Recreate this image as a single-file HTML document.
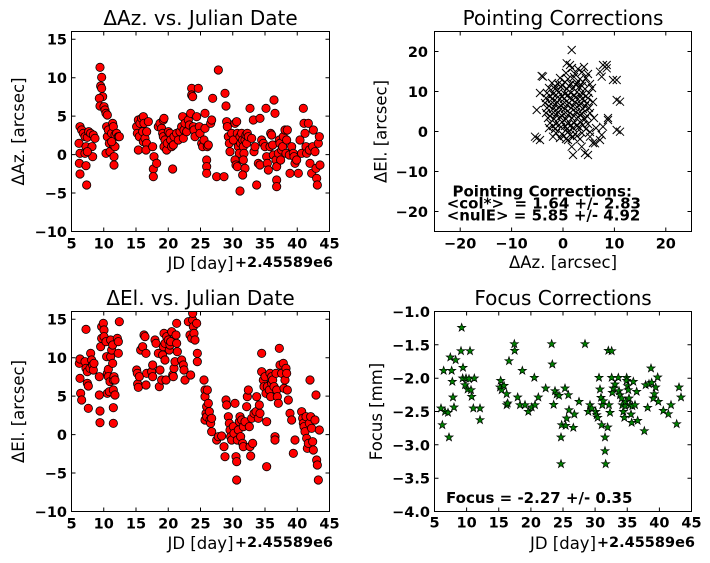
<!DOCTYPE html>
<html><head><meta charset="utf-8">
<style>
html,body{margin:0;padding:0;background:#fff;}
svg{display:block;}
text{font-family:"DejaVu Sans","Liberation Sans",sans-serif;fill:#000;}
.t{font-size:20px;}
.l{font-size:16.5px;}
.k{font-size:14.5px;font-weight:bold;}
.a{font-size:15px;font-weight:bold;white-space:pre;}
</style></head>
<body>
<svg width="710" height="563" viewBox="0 0 710 563" xmlns="http://www.w3.org/2000/svg">
<defs>
<circle id="c" cx="0" cy="0" r="12.5" fill="#ff0000" stroke="#000" stroke-width="2.4"/>
<path id="xm" d="M-4-4L4 4M4-4L-4 4" stroke="#000" stroke-width="1" fill="none"/>
<path id="st" d="M0-13L3.06-4.21L12.36-4.02L4.95 1.61L7.64 10.52L0 5.2L-7.64 10.52L-4.95 1.61L-12.36-4.02L-3.06-4.21Z" fill="#008000" stroke="#000" stroke-width="2"/>
<clipPath id="cTL"><rect x="71.5" y="31.5" width="258" height="200"/></clipPath>
<clipPath id="cTR"><rect x="434.5" y="31.5" width="257" height="200"/></clipPath>
<clipPath id="cBL"><rect x="71.5" y="311.5" width="258" height="200"/></clipPath>
<clipPath id="cBR"><rect x="434.5" y="311.5" width="257" height="200"/></clipPath>
</defs>

<!-- ===== TOP LEFT ===== -->
<g clip-path="url(#cTL)"><g transform="scale(0.333333)">
<use href="#c" x="240" y="380"/><use href="#c" x="245" y="390"/><use href="#c" x="237" y="430"/><use href="#c" x="240" y="460"/><use href="#c" x="238" y="490"/><use href="#c" x="240" y="522"/><use href="#c" x="250" y="400"/><use href="#c" x="255" y="410"/><use href="#c" x="258" y="440"/><use href="#c" x="260" y="555"/><use href="#c" x="258" y="497"/><use href="#c" x="262" y="412"/><use href="#c" x="266" y="395"/><use href="#c" x="272" y="400"/><use href="#c" x="276" y="440"/><use href="#c" x="278" y="470"/><use href="#c" x="280" y="405"/><use href="#c" x="285" y="415"/><use href="#c" x="255" y="460"/><use href="#c" x="262" y="455"/>
<use href="#c" x="300" y="202"/><use href="#c" x="305" y="232"/><use href="#c" x="302" y="258"/><use href="#c" x="305" y="265"/><use href="#c" x="308" y="290"/><use href="#c" x="298" y="295"/><use href="#c" x="300" y="318"/><use href="#c" x="312" y="320"/><use href="#c" x="315" y="330"/><use href="#c" x="318" y="340"/><use href="#c" x="322" y="345"/><use href="#c" x="320" y="380"/><use href="#c" x="318" y="460"/><use href="#c" x="322" y="410"/><use href="#c" x="325" y="390"/><use href="#c" x="328" y="430"/><use href="#c" x="330" y="455"/><use href="#c" x="335" y="400"/><use href="#c" x="338" y="370"/><use href="#c" x="340" y="380"/><use href="#c" x="340" y="435"/><use href="#c" x="342" y="470"/><use href="#c" x="342" y="495"/><use href="#c" x="345" y="440"/><use href="#c" x="345" y="405"/><use href="#c" x="350" y="400"/><use href="#c" x="355" y="410"/><use href="#c" x="358" y="410"/><use href="#c" x="335" y="425"/>
<use href="#c" x="410" y="380"/><use href="#c" x="412" y="400"/><use href="#c" x="415" y="360"/><use href="#c" x="418" y="410"/><use href="#c" x="420" y="370"/><use href="#c" x="415" y="450"/><use href="#c" x="425" y="355"/><use href="#c" x="430" y="350"/><use href="#c" x="432" y="370"/><use href="#c" x="428" y="395"/><use href="#c" x="430" y="425"/><use href="#c" x="435" y="415"/><use href="#c" x="440" y="430"/><use href="#c" x="438" y="450"/><use href="#c" x="445" y="365"/><use href="#c" x="440" y="395"/><use href="#c" x="458" y="440"/><use href="#c" x="462" y="470"/><use href="#c" x="460" y="507"/><use href="#c" x="460" y="530"/><use href="#c" x="470" y="490"/><use href="#c" x="475" y="380"/><use href="#c" x="480" y="370"/><use href="#c" x="485" y="385"/><use href="#c" x="490" y="360"/><use href="#c" x="492" y="355"/><use href="#c" x="488" y="400"/><use href="#c" x="490" y="410"/><use href="#c" x="495" y="420"/><use href="#c" x="492" y="440"/><use href="#c" x="500" y="450"/><use href="#c" x="502" y="430"/><use href="#c" x="505" y="395"/><use href="#c" x="510" y="400"/><use href="#c" x="512" y="420"/><use href="#c" x="515" y="440"/><use href="#c" x="518" y="507"/><use href="#c" x="520" y="435"/><use href="#c" x="522" y="410"/>
<use href="#c" x="530" y="400"/><use href="#c" x="535" y="420"/><use href="#c" x="540" y="395"/><use href="#c" x="545" y="380"/><use href="#c" x="548" y="350"/><use href="#c" x="552" y="390"/><use href="#c" x="550" y="415"/><use href="#c" x="555" y="370"/><use href="#c" x="560" y="395"/><use href="#c" x="565" y="360"/><use href="#c" x="568" y="375"/><use href="#c" x="572" y="340"/><use href="#c" x="575" y="265"/><use href="#c" x="575" y="285"/><use href="#c" x="578" y="290"/><use href="#c" x="580" y="380"/><use href="#c" x="582" y="390"/><use href="#c" x="585" y="410"/><use href="#c" x="590" y="350"/><use href="#c" x="595" y="265"/><use href="#c" x="598" y="380"/><use href="#c" x="600" y="400"/><use href="#c" x="605" y="430"/><use href="#c" x="608" y="440"/><use href="#c" x="612" y="420"/><use href="#c" x="615" y="385"/><use href="#c" x="615" y="340"/><use href="#c" x="620" y="480"/><use href="#c" x="620" y="500"/><use href="#c" x="620" y="520"/><use href="#c" x="622" y="440"/><use href="#c" x="625" y="435"/><use href="#c" x="632" y="370"/><use href="#c" x="635" y="360"/><use href="#c" x="638" y="295"/><use href="#c" x="655" y="210"/><use href="#c" x="650" y="530"/><use href="#c" x="672" y="530"/><use href="#c" x="675" y="280"/><use href="#c" x="678" y="318"/><use href="#c" x="680" y="365"/><use href="#c" x="682" y="380"/><use href="#c" x="685" y="410"/><use href="#c" x="688" y="430"/><use href="#c" x="690" y="455"/>
<use href="#c" x="695" y="400"/><use href="#c" x="700" y="420"/><use href="#c" x="705" y="370"/><use href="#c" x="710" y="365"/><use href="#c" x="712" y="400"/><use href="#c" x="715" y="440"/><use href="#c" x="718" y="460"/><use href="#c" x="705" y="480"/><use href="#c" x="708" y="495"/><use href="#c" x="712" y="500"/><use href="#c" x="720" y="573"/><use href="#c" x="720" y="410"/><use href="#c" x="722" y="430"/><use href="#c" x="725" y="400"/><use href="#c" x="728" y="420"/><use href="#c" x="730" y="440"/><use href="#c" x="732" y="460"/><use href="#c" x="735" y="420"/><use href="#c" x="738" y="405"/><use href="#c" x="740" y="430"/><use href="#c" x="742" y="400"/><use href="#c" x="745" y="410"/><use href="#c" x="750" y="325"/><use href="#c" x="730" y="480"/><use href="#c" x="735" y="505"/><use href="#c" x="728" y="525"/><use href="#c" x="755" y="415"/><use href="#c" x="760" y="360"/><use href="#c" x="762" y="455"/><use href="#c" x="765" y="440"/><use href="#c" x="780" y="355"/>
<use href="#c" x="770" y="555"/><use href="#c" x="775" y="490"/><use href="#c" x="780" y="495"/><use href="#c" x="785" y="420"/><use href="#c" x="790" y="430"/><use href="#c" x="795" y="440"/><use href="#c" x="798" y="325"/><use href="#c" x="800" y="470"/><use href="#c" x="802" y="490"/><use href="#c" x="805" y="510"/><use href="#c" x="810" y="440"/><use href="#c" x="812" y="400"/><use href="#c" x="815" y="405"/><use href="#c" x="818" y="435"/><use href="#c" x="820" y="465"/><use href="#c" x="822" y="300"/><use href="#c" x="825" y="340"/><use href="#c" x="828" y="480"/><use href="#c" x="830" y="500"/><use href="#c" x="830" y="540"/><use href="#c" x="830" y="560"/><use href="#c" x="835" y="460"/><use href="#c" x="838" y="420"/><use href="#c" x="840" y="430"/><use href="#c" x="842" y="480"/><use href="#c" x="845" y="450"/><use href="#c" x="848" y="440"/><use href="#c" x="850" y="410"/><use href="#c" x="855" y="390"/><use href="#c" x="858" y="460"/><use href="#c" x="860" y="420"/><use href="#c" x="862" y="390"/><use href="#c" x="868" y="465"/><use href="#c" x="870" y="520"/><use href="#c" x="875" y="440"/><use href="#c" x="880" y="460"/><use href="#c" x="882" y="470"/>
<use href="#c" x="885" y="490"/><use href="#c" x="890" y="480"/><use href="#c" x="895" y="520"/><use href="#c" x="900" y="420"/><use href="#c" x="905" y="460"/><use href="#c" x="910" y="325"/><use href="#c" x="912" y="370"/><use href="#c" x="915" y="400"/><use href="#c" x="918" y="440"/><use href="#c" x="920" y="460"/><use href="#c" x="925" y="370"/><use href="#c" x="928" y="450"/><use href="#c" x="930" y="490"/><use href="#c" x="935" y="520"/><use href="#c" x="938" y="440"/><use href="#c" x="940" y="390"/><use href="#c" x="945" y="455"/><use href="#c" x="948" y="505"/><use href="#c" x="950" y="535"/><use href="#c" x="952" y="555"/><use href="#c" x="955" y="430"/><use href="#c" x="958" y="410"/><use href="#c" x="960" y="495"/>
</g></g>
<rect x="71.5" y="31.5" width="258" height="200" fill="none" stroke="#000" stroke-width="1"/>
<path stroke="#000" stroke-width="1" fill="none" d="M103.75 231.5v-4M136 231.5v-4M168.25 231.5v-4M200.5 231.5v-4M232.75 231.5v-4M265 231.5v-4M297.25 231.5v-4M103.75 31.5v4M136 31.5v4M168.25 31.5v4M200.5 31.5v4M232.75 31.5v4M265 31.5v4M297.25 31.5v4M71.5 193h4M71.5 154.6h4M71.5 116.1h4M71.5 77.7h4M71.5 39.2h4M329.5 193h-4M329.5 154.6h-4M329.5 116.1h-4M329.5 77.7h-4M329.5 39.2h-4"/>
<text class="t" x="200.5" y="25" text-anchor="middle">ΔAz. vs. Julian Date</text>
<g class="k" text-anchor="end">
<text x="67" y="237">−10</text><text x="67" y="198.5">−5</text><text x="67" y="160.1">0</text><text x="67" y="121.6">5</text><text x="67" y="83.2">10</text><text x="67" y="44.7">15</text>
</g>
<g class="k" text-anchor="middle">
<text x="71.5" y="248.3">5</text><text x="103.75" y="248.3">10</text><text x="136" y="248.3">15</text><text x="168.25" y="248.3">20</text><text x="200.5" y="248.3">25</text><text x="232.75" y="248.3">30</text><text x="265" y="248.3">35</text><text x="297.25" y="248.3">40</text><text x="329.5" y="248.3">45</text>
</g>
<text class="l" x="200.5" y="269" text-anchor="middle">JD [day]</text>
<text class="k" x="333" y="267" text-anchor="end">+2.45589e6</text>
<text class="l" transform="translate(24,131.5) rotate(-90)" text-anchor="middle">ΔAz. [arcsec]</text>

<!-- ===== TOP RIGHT ===== -->
<g clip-path="url(#cTR)">
<use href="#xm" x="571.7" y="50"/><use href="#xm" x="566.7" y="63.3"/><use href="#xm" x="570" y="65"/><use href="#xm" x="541.7" y="76"/><use href="#xm" x="603" y="65"/><use href="#xm" x="606.7" y="68.3"/><use href="#xm" x="600" y="71.7"/><use href="#xm" x="616.7" y="80"/><use href="#xm" x="540" y="93"/><use href="#xm" x="616.7" y="100"/><use href="#xm" x="536.7" y="110"/><use href="#xm" x="535" y="136.7"/><use href="#xm" x="540" y="140"/><use href="#xm" x="608" y="120"/><use href="#xm" x="603" y="126.7"/><use href="#xm" x="616.7" y="130"/><use href="#xm" x="600" y="140"/><use href="#xm" x="593" y="143"/><use href="#xm" x="571.7" y="146.7"/><use href="#xm" x="581.7" y="146.7"/><use href="#xm" x="590" y="136.7"/><use href="#xm" x="568" y="140"/><use href="#xm" x="553" y="136.7"/><use href="#xm" x="620" y="101.7"/><use href="#xm" x="620" y="131.7"/><use href="#xm" x="608" y="118"/><use href="#xm" x="613" y="80"/><use href="#xm" x="606.7" y="65"/><use href="#xm" x="601.7" y="76.7"/><use href="#xm" x="543" y="76.7"/><use href="#xm" x="536.7" y="138.3"/><use href="#xm" x="588" y="155"/><use href="#xm" x="585" y="153"/><use href="#xm" x="573" y="155"/><use href="#xm" x="595" y="143.3"/><use href="#xm" x="601.7" y="135"/>
<use href="#xm" x="572" y="68"/><use href="#xm" x="578" y="69"/><use href="#xm" x="584" y="67"/>
<use href="#xm" x="566" y="73"/><use href="#xm" x="575" y="74"/><use href="#xm" x="582" y="72"/><use href="#xm" x="588" y="74"/>
<use href="#xm" x="560" y="78"/><use href="#xm" x="568" y="79"/><use href="#xm" x="574" y="77"/><use href="#xm" x="580" y="79"/><use href="#xm" x="586" y="78"/>
<use href="#xm" x="552" y="83"/><use href="#xm" x="558" y="84"/><use href="#xm" x="565" y="82"/><use href="#xm" x="571" y="84"/><use href="#xm" x="577" y="83"/><use href="#xm" x="583" y="82"/><use href="#xm" x="590" y="84"/>
<use href="#xm" x="549" y="88"/><use href="#xm" x="555" y="89"/><use href="#xm" x="561" y="87"/><use href="#xm" x="567" y="89"/><use href="#xm" x="573" y="88"/><use href="#xm" x="579" y="87"/><use href="#xm" x="585" y="89"/><use href="#xm" x="592" y="88"/>
<use href="#xm" x="547" y="93"/><use href="#xm" x="553" y="94"/><use href="#xm" x="559" y="92"/><use href="#xm" x="565" y="94"/><use href="#xm" x="571" y="93"/><use href="#xm" x="577" y="92"/><use href="#xm" x="583" y="94"/><use href="#xm" x="589" y="93"/>
<use href="#xm" x="546" y="98"/><use href="#xm" x="552" y="99"/><use href="#xm" x="558" y="97"/><use href="#xm" x="564" y="99"/><use href="#xm" x="570" y="98"/><use href="#xm" x="576" y="97"/><use href="#xm" x="582" y="99"/><use href="#xm" x="588" y="98"/>
<use href="#xm" x="545" y="103"/><use href="#xm" x="551" y="104"/><use href="#xm" x="557" y="102"/><use href="#xm" x="563" y="104"/><use href="#xm" x="569" y="103"/><use href="#xm" x="575" y="102"/><use href="#xm" x="581" y="104"/><use href="#xm" x="587" y="103"/><use href="#xm" x="593" y="102"/>
<use href="#xm" x="547" y="108"/><use href="#xm" x="553" y="109"/><use href="#xm" x="559" y="107"/><use href="#xm" x="565" y="109"/><use href="#xm" x="571" y="108"/><use href="#xm" x="577" y="107"/><use href="#xm" x="583" y="109"/><use href="#xm" x="589" y="108"/>
<use href="#xm" x="546" y="113"/><use href="#xm" x="552" y="114"/><use href="#xm" x="558" y="112"/><use href="#xm" x="564" y="114"/><use href="#xm" x="570" y="113"/><use href="#xm" x="576" y="112"/><use href="#xm" x="582" y="114"/><use href="#xm" x="590" y="113"/>
<use href="#xm" x="548" y="118"/><use href="#xm" x="554" y="119"/><use href="#xm" x="560" y="117"/><use href="#xm" x="566" y="119"/><use href="#xm" x="572" y="118"/><use href="#xm" x="578" y="117"/><use href="#xm" x="585" y="119"/><use href="#xm" x="594" y="118"/>
<use href="#xm" x="550" y="123"/><use href="#xm" x="556" y="124"/><use href="#xm" x="562" y="122"/><use href="#xm" x="568" y="124"/><use href="#xm" x="574" y="123"/><use href="#xm" x="580" y="122"/><use href="#xm" x="588" y="124"/>
<use href="#xm" x="549" y="128"/><use href="#xm" x="555" y="129"/><use href="#xm" x="561" y="127"/><use href="#xm" x="567" y="129"/><use href="#xm" x="573" y="128"/><use href="#xm" x="579" y="127"/><use href="#xm" x="586" y="129"/><use href="#xm" x="596" y="128"/>
<use href="#xm" x="556" y="133"/><use href="#xm" x="562" y="134"/><use href="#xm" x="568" y="132"/><use href="#xm" x="575" y="134"/><use href="#xm" x="582" y="133"/><use href="#xm" x="590" y="132"/>
<use href="#xm" x="560" y="138"/><use href="#xm" x="566" y="139"/><use href="#xm" x="573" y="137"/><use href="#xm" x="580" y="139"/>
<use href="#xm" x="555" y="86"/><use href="#xm" x="562" y="85"/><use href="#xm" x="569" y="86"/><use href="#xm" x="576" y="85"/><use href="#xm" x="582" y="86"/>
<use href="#xm" x="550" y="96"/><use href="#xm" x="556" y="95"/><use href="#xm" x="562" y="96"/><use href="#xm" x="568" y="95"/><use href="#xm" x="574" y="96"/><use href="#xm" x="580" y="95"/><use href="#xm" x="586" y="96"/>
<use href="#xm" x="549" y="106"/><use href="#xm" x="555" y="105"/><use href="#xm" x="561" y="106"/><use href="#xm" x="567" y="105"/><use href="#xm" x="573" y="106"/><use href="#xm" x="579" y="105"/><use href="#xm" x="585" y="106"/>
<use href="#xm" x="550" y="116"/><use href="#xm" x="556" y="115"/><use href="#xm" x="562" y="116"/><use href="#xm" x="568" y="115"/><use href="#xm" x="574" y="116"/><use href="#xm" x="580" y="115"/><use href="#xm" x="587" y="116"/>
<use href="#xm" x="553" y="126"/><use href="#xm" x="559" y="125"/><use href="#xm" x="565" y="126"/><use href="#xm" x="571" y="125"/><use href="#xm" x="577" y="126"/><use href="#xm" x="583" y="125"/>
<use href="#xm" x="564" y="136"/><use href="#xm" x="570" y="135"/><use href="#xm" x="577" y="136"/>
</g>
<rect x="434.5" y="31.5" width="257" height="200" fill="none" stroke="#000" stroke-width="1"/>
<path stroke="#000" stroke-width="1" fill="none" d="M460.2 231.5v-4M511.6 231.5v-4M563 231.5v-4M614.4 231.5v-4M665.8 231.5v-4M460.2 31.5v4M511.6 31.5v4M563 31.5v4M614.4 31.5v4M665.8 31.5v4M434.5 51.5h4M434.5 91.5h4M434.5 131.5h4M434.5 171.5h4M434.5 211.5h4M691.5 51.5h-4M691.5 91.5h-4M691.5 131.5h-4M691.5 171.5h-4M691.5 211.5h-4"/>
<text class="t" x="563" y="25" text-anchor="middle">Pointing Corrections</text>
<g class="k" text-anchor="end">
<text x="428" y="57">20</text><text x="428" y="97">10</text><text x="428" y="137">0</text><text x="428" y="177">−10</text><text x="428" y="217">−20</text>
</g>
<g class="k" text-anchor="middle">
<text x="460.2" y="248.3">−20</text><text x="511.6" y="248.3">−10</text><text x="563" y="248.3">0</text><text x="614.4" y="248.3">10</text><text x="665.8" y="248.3">20</text>
</g>
<text class="l" x="563" y="268" text-anchor="middle">ΔAz. [arcsec]</text>
<text class="l" transform="translate(386.5,131.5) rotate(-90)" text-anchor="middle">ΔEl. [arcsec]</text>
<text class="a" x="452.5" y="196.5">Pointing Corrections:</text>
<text class="a" x="446.7" y="208.5">&lt;col*&gt;  = 1.64 +/- 2.83</text>
<text class="a" x="446.7" y="220.5">&lt;nulE&gt; = 5.85 +/- 4.92</text>

<!-- ===== BOTTOM LEFT ===== -->
<g clip-path="url(#cBL)"><g transform="translate(0,280) scale(0.333333)">
<use href="#c" x="238" y="250"/><use href="#c" x="240" y="237"/><use href="#c" x="240" y="295"/><use href="#c" x="242" y="340"/><use href="#c" x="245" y="360"/><use href="#c" x="258" y="148"/><use href="#c" x="255" y="245"/><use href="#c" x="258" y="265"/><use href="#c" x="262" y="275"/><use href="#c" x="262" y="310"/><use href="#c" x="265" y="318"/><use href="#c" x="265" y="385"/><use href="#c" x="270" y="265"/><use href="#c" x="272" y="220"/><use href="#c" x="275" y="240"/><use href="#c" x="278" y="255"/><use href="#c" x="280" y="270"/><use href="#c" x="282" y="250"/>
<use href="#c" x="298" y="290"/><use href="#c" x="298" y="345"/><use href="#c" x="300" y="393"/><use href="#c" x="300" y="428"/><use href="#c" x="302" y="200"/><use href="#c" x="305" y="175"/><use href="#c" x="305" y="140"/><use href="#c" x="310" y="130"/><use href="#c" x="312" y="150"/><use href="#c" x="312" y="170"/><use href="#c" x="318" y="185"/><use href="#c" x="320" y="230"/><use href="#c" x="322" y="280"/><use href="#c" x="325" y="268"/><use href="#c" x="325" y="290"/><use href="#c" x="322" y="340"/><use href="#c" x="328" y="335"/><use href="#c" x="330" y="305"/><use href="#c" x="332" y="180"/><use href="#c" x="332" y="230"/><use href="#c" x="335" y="210"/><use href="#c" x="338" y="195"/><use href="#c" x="338" y="250"/><use href="#c" x="340" y="300"/><use href="#c" x="342" y="290"/><use href="#c" x="340" y="330"/><use href="#c" x="340" y="383"/><use href="#c" x="340" y="430"/><use href="#c" x="345" y="345"/><use href="#c" x="345" y="300"/><use href="#c" x="352" y="175"/><use href="#c" x="355" y="185"/><use href="#c" x="355" y="220"/><use href="#c" x="358" y="125"/>
<use href="#c" x="410" y="270"/><use href="#c" x="412" y="280"/><use href="#c" x="413" y="312"/><use href="#c" x="415" y="322"/><use href="#c" x="418" y="290"/><use href="#c" x="422" y="210"/><use href="#c" x="428" y="200"/><use href="#c" x="432" y="165"/><use href="#c" x="435" y="170"/><use href="#c" x="438" y="220"/><use href="#c" x="440" y="280"/><use href="#c" x="438" y="315"/><use href="#c" x="455" y="275"/><use href="#c" x="458" y="255"/><use href="#c" x="458" y="290"/><use href="#c" x="465" y="180"/><use href="#c" x="468" y="190"/><use href="#c" x="475" y="220"/><use href="#c" x="478" y="320"/><use href="#c" x="480" y="270"/><use href="#c" x="485" y="300"/><use href="#c" x="488" y="225"/><use href="#c" x="490" y="200"/><use href="#c" x="492" y="160"/><use href="#c" x="495" y="190"/><use href="#c" x="495" y="240"/><use href="#c" x="498" y="300"/><use href="#c" x="500" y="170"/><use href="#c" x="505" y="180"/><use href="#c" x="508" y="210"/><use href="#c" x="510" y="195"/><use href="#c" x="512" y="185"/><use href="#c" x="515" y="155"/><use href="#c" x="518" y="285"/><use href="#c" x="520" y="290"/><use href="#c" x="522" y="265"/><use href="#c" x="525" y="245"/><use href="#c" x="528" y="165"/><use href="#c" x="530" y="130"/><use href="#c" x="530" y="190"/><use href="#c" x="532" y="215"/>
<use href="#c" x="545" y="240"/><use href="#c" x="550" y="255"/><use href="#c" x="552" y="270"/><use href="#c" x="555" y="300"/><use href="#c" x="565" y="125"/><use href="#c" x="570" y="165"/><use href="#c" x="572" y="285"/><use href="#c" x="575" y="175"/><use href="#c" x="578" y="120"/><use href="#c" x="578" y="100"/><use href="#c" x="580" y="140"/><use href="#c" x="582" y="160"/><use href="#c" x="585" y="180"/><use href="#c" x="590" y="130"/><use href="#c" x="592" y="220"/><use href="#c" x="592" y="245"/>
<use href="#c" x="612" y="300"/><use href="#c" x="615" y="330"/><use href="#c" x="615" y="350"/><use href="#c" x="615" y="420"/><use href="#c" x="618" y="400"/><use href="#c" x="620" y="380"/><use href="#c" x="620" y="410"/><use href="#c" x="622" y="330"/><use href="#c" x="625" y="370"/><use href="#c" x="628" y="395"/><use href="#c" x="630" y="420"/><use href="#c" x="632" y="430"/><use href="#c" x="635" y="415"/><use href="#c" x="635" y="455"/><use href="#c" x="650" y="480"/><use href="#c" x="655" y="470"/><use href="#c" x="665" y="468"/><use href="#c" x="672" y="500"/><use href="#c" x="675" y="530"/><use href="#c" x="678" y="360"/><use href="#c" x="680" y="375"/><use href="#c" x="685" y="410"/><use href="#c" x="688" y="430"/><use href="#c" x="690" y="450"/><use href="#c" x="692" y="470"/><use href="#c" x="695" y="480"/>
<use href="#c" x="700" y="440"/><use href="#c" x="702" y="460"/><use href="#c" x="705" y="370"/><use href="#c" x="708" y="530"/><use href="#c" x="710" y="545"/><use href="#c" x="710" y="600"/><use href="#c" x="712" y="480"/><use href="#c" x="715" y="450"/><use href="#c" x="718" y="425"/><use href="#c" x="720" y="410"/><use href="#c" x="722" y="470"/><use href="#c" x="725" y="420"/><use href="#c" x="728" y="490"/><use href="#c" x="730" y="500"/><use href="#c" x="730" y="440"/><use href="#c" x="735" y="425"/><use href="#c" x="740" y="380"/><use href="#c" x="742" y="350"/><use href="#c" x="745" y="330"/><use href="#c" x="748" y="440"/><use href="#c" x="750" y="500"/><use href="#c" x="752" y="528"/><use href="#c" x="755" y="415"/><use href="#c" x="758" y="490"/><use href="#c" x="762" y="400"/><use href="#c" x="768" y="395"/><use href="#c" x="770" y="350"/><use href="#c" x="775" y="415"/><use href="#c" x="778" y="375"/><use href="#c" x="780" y="400"/>
<use href="#c" x="785" y="220"/><use href="#c" x="785" y="275"/><use href="#c" x="790" y="300"/><use href="#c" x="792" y="320"/><use href="#c" x="795" y="290"/><use href="#c" x="798" y="340"/><use href="#c" x="800" y="425"/><use href="#c" x="800" y="560"/><use href="#c" x="802" y="320"/><use href="#c" x="808" y="330"/><use href="#c" x="810" y="280"/><use href="#c" x="812" y="350"/><use href="#c" x="815" y="310"/><use href="#c" x="815" y="290"/><use href="#c" x="818" y="300"/><use href="#c" x="822" y="320"/><use href="#c" x="825" y="470"/><use href="#c" x="825" y="480"/><use href="#c" x="828" y="280"/><use href="#c" x="830" y="330"/><use href="#c" x="832" y="350"/><use href="#c" x="835" y="370"/><use href="#c" x="838" y="205"/><use href="#c" x="840" y="255"/><use href="#c" x="845" y="280"/><use href="#c" x="850" y="250"/><use href="#c" x="852" y="325"/><use href="#c" x="855" y="300"/><use href="#c" x="858" y="265"/><use href="#c" x="860" y="280"/><use href="#c" x="862" y="330"/><use href="#c" x="865" y="360"/><use href="#c" x="870" y="400"/><use href="#c" x="875" y="420"/><use href="#c" x="880" y="520"/><use href="#c" x="885" y="480"/>
<use href="#c" x="905" y="395"/><use href="#c" x="908" y="415"/><use href="#c" x="910" y="430"/><use href="#c" x="912" y="440"/><use href="#c" x="915" y="455"/><use href="#c" x="918" y="410"/><use href="#c" x="920" y="475"/><use href="#c" x="922" y="505"/><use href="#c" x="925" y="490"/><use href="#c" x="928" y="430"/><use href="#c" x="930" y="300"/><use href="#c" x="932" y="410"/><use href="#c" x="935" y="445"/><use href="#c" x="938" y="485"/><use href="#c" x="940" y="510"/><use href="#c" x="945" y="420"/><use href="#c" x="948" y="345"/><use href="#c" x="950" y="540"/><use href="#c" x="952" y="555"/><use href="#c" x="955" y="600"/><use href="#c" x="958" y="450"/>
</g></g>
<rect x="71.5" y="311.5" width="258" height="200" fill="none" stroke="#000" stroke-width="1"/>
<path stroke="#000" stroke-width="1" fill="none" d="M103.75 511.5v-4M136 511.5v-4M168.25 511.5v-4M200.5 511.5v-4M232.75 511.5v-4M265 511.5v-4M297.25 511.5v-4M103.75 311.5v4M136 311.5v4M168.25 311.5v4M200.5 311.5v4M232.75 311.5v4M265 311.5v4M297.25 311.5v4M71.5 473h4M71.5 434.6h4M71.5 396.1h4M71.5 357.7h4M71.5 319.2h4M329.5 473h-4M329.5 434.6h-4M329.5 396.1h-4M329.5 357.7h-4M329.5 319.2h-4"/>
<text class="t" x="200.5" y="305" text-anchor="middle">ΔEl. vs. Julian Date</text>
<g class="k" text-anchor="end">
<text x="67" y="517">−10</text><text x="67" y="478.5">−5</text><text x="67" y="440.1">0</text><text x="67" y="401.6">5</text><text x="67" y="363.2">10</text><text x="67" y="324.7">15</text>
</g>
<g class="k" text-anchor="middle">
<text x="71.5" y="528.3">5</text><text x="103.75" y="528.3">10</text><text x="136" y="528.3">15</text><text x="168.25" y="528.3">20</text><text x="200.5" y="528.3">25</text><text x="232.75" y="528.3">30</text><text x="265" y="528.3">35</text><text x="297.25" y="528.3">40</text><text x="329.5" y="528.3">45</text>
</g>
<text class="l" x="200.5" y="549" text-anchor="middle">JD [day]</text>
<text class="k" x="333" y="547" text-anchor="end">+2.45589e6</text>
<text class="l" transform="translate(24,411.5) rotate(-90)" text-anchor="middle">ΔEl. [arcsec]</text>

<!-- ===== BOTTOM RIGHT ===== -->
<g clip-path="url(#cBR)"><g transform="translate(355,280) scale(0.333333)">
<use href="#st" x="258" y="385"/><use href="#st" x="262" y="435"/><use href="#st" x="266" y="272"/><use href="#st" x="270" y="395"/><use href="#st" x="279" y="398"/><use href="#st" x="282" y="472"/><use href="#st" x="286" y="232"/><use href="#st" x="290" y="272"/><use href="#st" x="292" y="305"/><use href="#st" x="294" y="352"/><use href="#st" x="297" y="382"/><use href="#st" x="302" y="240"/><use href="#st" x="320" y="143"/><use href="#st" x="318" y="213"/><use href="#st" x="324" y="263"/><use href="#st" x="323" y="295"/><use href="#st" x="330" y="315"/><use href="#st" x="333" y="295"/><use href="#st" x="338" y="328"/><use href="#st" x="342" y="297"/><use href="#st" x="345" y="213"/><use href="#st" x="348" y="330"/><use href="#st" x="350" y="350"/><use href="#st" x="355" y="385"/><use href="#st" x="358" y="295"/><use href="#st" x="375" y="385"/><use href="#st" x="375" y="420"/>
<use href="#st" x="435" y="322"/><use href="#st" x="437" y="302"/><use href="#st" x="440" y="330"/><use href="#st" x="447" y="317"/><use href="#st" x="455" y="375"/><use href="#st" x="458" y="370"/><use href="#st" x="455" y="342"/><use href="#st" x="462" y="243"/><use href="#st" x="478" y="192"/><use href="#st" x="479" y="212"/><use href="#st" x="488" y="352"/><use href="#st" x="495" y="375"/><use href="#st" x="502" y="272"/><use href="#st" x="510" y="375"/><use href="#st" x="520" y="395"/><use href="#st" x="530" y="382"/><use href="#st" x="538" y="293"/><use href="#st" x="540" y="375"/><use href="#st" x="550" y="352"/><use href="#st" x="572" y="325"/>
<use href="#st" x="590" y="192"/><use href="#st" x="592" y="253"/><use href="#st" x="596" y="374"/><use href="#st" x="600" y="333"/><use href="#st" x="605" y="343"/><use href="#st" x="612" y="347"/><use href="#st" x="618" y="472"/><use href="#st" x="620" y="435"/><use href="#st" x="618" y="552"/><use href="#st" x="630" y="325"/><use href="#st" x="632" y="437"/><use href="#st" x="635" y="415"/><use href="#st" x="640" y="345"/><use href="#st" x="642" y="390"/><use href="#st" x="655" y="443"/><use href="#st" x="658" y="403"/><use href="#st" x="672" y="365"/><use href="#st" x="690" y="192"/><use href="#st" x="700" y="395"/><use href="#st" x="705" y="375"/><use href="#st" x="710" y="385"/><use href="#st" x="722" y="395"/><use href="#st" x="725" y="405"/><use href="#st" x="728" y="413"/><use href="#st" x="732" y="293"/><use href="#st" x="735" y="328"/><use href="#st" x="738" y="353"/><use href="#st" x="740" y="435"/><use href="#st" x="742" y="375"/><use href="#st" x="745" y="363"/><use href="#st" x="750" y="472"/><use href="#st" x="750" y="513"/><use href="#st" x="752" y="552"/><use href="#st" x="758" y="442"/><use href="#st" x="760" y="212"/><use href="#st" x="762" y="375"/><use href="#st" x="765" y="398"/><use href="#st" x="770" y="213"/><use href="#st" x="770" y="293"/><use href="#st" x="772" y="338"/><use href="#st" x="775" y="325"/><use href="#st" x="780" y="313"/>
<use href="#st" x="790" y="293"/><use href="#st" x="792" y="333"/><use href="#st" x="795" y="345"/><use href="#st" x="800" y="355"/><use href="#st" x="802" y="375"/><use href="#st" x="805" y="395"/><use href="#st" x="808" y="413"/><use href="#st" x="810" y="378"/><use href="#st" x="812" y="365"/><use href="#st" x="815" y="293"/><use href="#st" x="815" y="302"/><use href="#st" x="818" y="318"/><use href="#st" x="820" y="330"/><use href="#st" x="822" y="355"/><use href="#st" x="825" y="375"/><use href="#st" x="828" y="403"/><use href="#st" x="830" y="428"/><use href="#st" x="832" y="378"/><use href="#st" x="835" y="305"/><use href="#st" x="840" y="375"/><use href="#st" x="845" y="335"/><use href="#st" x="848" y="422"/><use href="#st" x="868" y="453"/><use href="#st" x="872" y="315"/><use href="#st" x="878" y="383"/><use href="#st" x="882" y="312"/><use href="#st" x="888" y="265"/><use href="#st" x="890" y="308"/><use href="#st" x="895" y="355"/><use href="#st" x="898" y="342"/><use href="#st" x="902" y="322"/><use href="#st" x="908" y="292"/><use href="#st" x="910" y="365"/><use href="#st" x="925" y="392"/><use href="#st" x="940" y="402"/><use href="#st" x="948" y="375"/><use href="#st" x="965" y="432"/><use href="#st" x="972" y="322"/><use href="#st" x="978" y="352"/>
</g></g>
<rect x="434.5" y="311.5" width="257" height="200" fill="none" stroke="#000" stroke-width="1"/>
<path stroke="#000" stroke-width="1" fill="none" d="M466.6 511.5v-4M498.75 511.5v-4M530.9 511.5v-4M563 511.5v-4M595.1 511.5v-4M627.25 511.5v-4M659.4 511.5v-4M466.6 311.5v4M498.75 311.5v4M530.9 311.5v4M563 311.5v4M595.1 311.5v4M627.25 311.5v4M659.4 311.5v4M434.5 344.8h4M434.5 378.2h4M434.5 411.5h4M434.5 444.8h4M434.5 478.2h4M691.5 344.8h-4M691.5 378.2h-4M691.5 411.5h-4M691.5 444.8h-4M691.5 478.2h-4"/>
<text class="t" x="563" y="305" text-anchor="middle">Focus Corrections</text>
<g class="k" text-anchor="end">
<text x="430" y="317">−1.0</text><text x="430" y="350.3">−1.5</text><text x="430" y="383.7">−2.0</text><text x="430" y="417">−2.5</text><text x="430" y="450.3">−3.0</text><text x="430" y="483.7">−3.5</text><text x="430" y="517">−4.0</text>
</g>
<g class="k" text-anchor="middle">
<text x="434.5" y="527.5">5</text><text x="466.6" y="527.5">10</text><text x="498.75" y="527.5">15</text><text x="530.9" y="527.5">20</text><text x="563" y="527.5">25</text><text x="595.1" y="527.5">30</text><text x="627.25" y="527.5">35</text><text x="659.4" y="527.5">40</text><text x="691.5" y="527.5">45</text>
</g>
<text class="l" x="563" y="549" text-anchor="middle">JD [day]</text>
<text class="k" x="695" y="547" text-anchor="end">+2.45589e6</text>
<text class="l" transform="translate(382,411.5) rotate(-90)" text-anchor="middle">Focus [mm]</text>
<text class="a" x="446" y="503">Focus = -2.27 +/- 0.35</text>
</svg>
</body></html>
